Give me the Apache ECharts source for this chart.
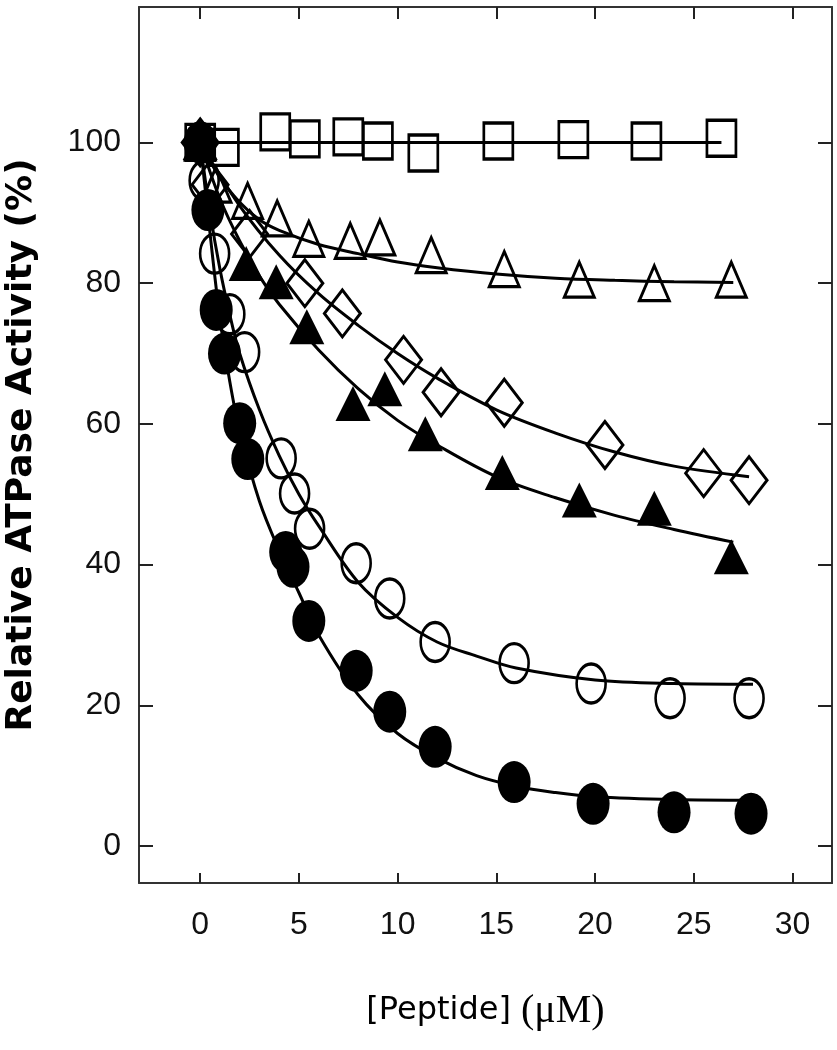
<!DOCTYPE html>
<html>
<head>
<meta charset="utf-8">
<script src="https://cdn.jsdelivr.net/npm/echarts@6/dist/echarts.min.js"></script>
<style>
html,body{margin:0;padding:0;background:#fff;}
#chart{width:837px;height:1050px;}
</style>
</head>
<body>
<div id="chart"></div>
<script>
// ---- data ----
const xTicks = [0, 5, 10, 15, 20, 25, 30];
const yTicks = [0, 20, 40, 60, 80, 100];

// open squares
const sqX = [0, 1.2, 3.8, 5.3, 7.5, 9.0, 11.3, 15.1, 18.9, 22.6, 26.4];
const sqY = [100, 99.3, 101.5, 100.5, 100.8, 100.2, 98.5, 100.2, 100.4, 100.2, 100.6];
const sqFitX = [0, 26.4];
const sqFitY = [100, 100];

// open triangles
const otX = [0, 0.8, 2.4, 3.9, 5.5, 7.6, 9.1, 11.7, 15.4, 19.2, 23.0, 26.9];
const otY = [100, 94, 91.7, 89.2, 86.3, 86, 86.5, 84, 82, 80.5, 80, 80.5];
const otFitX = [0, 1, 2, 3, 4, 6, 8, 10, 12, 15, 18, 21, 24, 27];
const otFitY = [100, 95, 91.5, 89, 87.5, 85.5, 84.2, 83, 82.2, 81.3, 80.7, 80.4, 80.2, 80.1];

// open diamonds
const dmX = [0, 0.5, 2.5, 5.3, 7.2, 10.3, 12.2, 15.4, 20.5, 25.5, 27.8];
const dmY = [100, 94, 87, 80, 75.7, 69.1, 64.5, 63, 57, 53, 52];
const dmFitX = [0, 2, 4, 6, 8, 10, 12, 15, 18, 21, 24, 27.8];
const dmFitY = [100, 91, 84, 78.5, 74, 70, 66.5, 62, 58.7, 56, 54, 52.5];

// filled triangles
const ftX = [0, 2.33, 3.85, 5.4, 7.74, 9.35, 11.4, 15.3, 19.2, 23.0, 26.9];
const ftY = [100, 82.8, 80.2, 73.8, 62.9, 65.0, 58.6, 53.1, 49.2, 48.0, 41.1];
const ftFitX = [0, 1, 2, 3, 4, 6, 8, 10, 12, 15, 18, 21, 24, 27];
const ftFitY = [100, 92, 86, 81, 77, 70.5, 65, 60.5, 57, 52.5, 49.5, 47, 45, 43.2];

// open circles
const ocX = [0, 0.2, 0.73, 1.5, 2.25, 4.1, 4.78, 5.54, 7.9, 9.6, 11.9, 15.9, 19.8, 23.8, 27.8];
const ocY = [100, 94.6, 84.2, 75.6, 70.2, 55.1, 50.1, 45.1, 40.2, 35.2, 29.0, 26.0, 23.1, 21.0, 21.0];
const ocFitX = [0, 0.5, 1, 1.5, 2, 3, 4, 5, 6, 8, 10, 12, 14, 16, 20, 24, 28];
const ocFitY = [100, 90, 82, 75.5, 70, 62, 55.5, 50, 45.5, 37.5, 32.5, 29, 27, 25.3, 23.6, 23.1, 23];

// filled circles
const fcX = [0, 0.39, 0.81, 1.23, 2.0, 2.41, 4.33, 4.7, 5.5, 7.9, 9.6, 11.9, 15.9, 19.9, 24.0, 27.9];
const fcY = [100, 90.4, 76.2, 70.0, 60.1, 55.0, 41.8, 39.7, 32.0, 24.9, 19.1, 14.1, 9.1, 6.0, 4.8, 4.6];
const fcFitX = [0, 0.5, 1, 1.5, 2, 3, 4, 5, 6, 8, 10, 12, 14, 16, 18, 20, 24, 28];
const fcFitY = [100, 87, 75, 66, 59, 49, 42, 36, 30, 21.5, 16, 12.5, 10, 8.5, 7.6, 7, 6.6, 6.5];

// ---- build ----
const zip = (xs, ys) => xs.map((x, i) => [x, ys[i]]);
const hollow = {color: 'rgba(0,0,0,0)', borderColor: '#000', borderWidth: 3, opacity: 1};
const solid = {color: '#000', borderWidth: 0, opacity: 1};

function fit(xs, ys) {
  return {type: 'line', data: zip(xs, ys), smooth: 0.35, showSymbol: false, symbol: 'none',
    lineStyle: {color: '#000', width: 3, opacity: 1}, z: 2, silent: true};
}
function pts(xs, ys, symbol, size, style) {
  return {type: 'scatter', data: zip(xs, ys), symbol: symbol, symbolSize: size,
    itemStyle: style, z: 3, silent: true};
}

const tickLine = {color: '#222', width: 2};
const axisLine = {show: true, onZero: false, lineStyle: {color: '#333', width: 2}};

const option = {
  animation: false,
  backgroundColor: '#fff',
  grid: {left: 139, right: 5, top: 7, bottom: 167, containLabel: false, outerBoundsMode: 'none'},
  xAxis: [{
    type: 'value', min: -3.1, max: 32, position: 'bottom',
    axisLine: axisLine,
    axisTick: {show: true, inside: true, length: 10, customValues: xTicks, lineStyle: tickLine},
    axisLabel: {customValues: xTicks, margin: 26, fontFamily: 'Liberation Sans', fontSize: 32, color: '#111'},
    splitLine: {show: false},
    name: '[Peptide] {u|(\u03bcM)}',
    nameLocation: 'middle', nameGap: 108,
    nameTextStyle: {fontFamily: 'DejaVu Sans', fontSize: 32, color: '#000',
      rich: {u: {fontFamily: 'Liberation Serif', fontSize: 40, color: '#000'}}}
  }, {
    type: 'value', min: -3.1, max: 32, position: 'top',
    axisLine: axisLine,
    axisTick: {show: true, inside: true, length: 12, customValues: xTicks, lineStyle: tickLine},
    axisLabel: {show: false}, splitLine: {show: false}
  }],
  yAxis: [{
    type: 'value', min: -5.25, max: 119.25, position: 'left',
    axisLine: axisLine,
    axisTick: {show: true, inside: true, length: 14, customValues: yTicks, lineStyle: tickLine},
    axisLabel: {customValues: yTicks, margin: 18, fontFamily: 'Liberation Sans', fontSize: 32, color: '#111'},
    splitLine: {show: false},
    name: 'Relative ATPase Activity (%)',
    nameLocation: 'middle', nameGap: 99, nameRotate: 90,
    nameTextStyle: {fontFamily: 'DejaVu Sans', fontWeight: 'bold', fontSize: 36, color: '#000'}
  }, {
    type: 'value', min: -5.25, max: 119.25, position: 'right',
    axisLine: axisLine,
    axisTick: {show: true, inside: true, length: 14, customValues: yTicks, lineStyle: tickLine},
    axisLabel: {show: false}, splitLine: {show: false}
  }],
  series: [
    fit(sqFitX, sqFitY),
    fit(otFitX, otFitY),
    fit(dmFitX, dmFitY),
    fit(ftFitX, ftFitY),
    fit(ocFitX, ocFitY),
    fit(fcFitX, fcFitY),
    pts(sqX, sqY, 'rect', [29, 36], hollow),
    pts(otX, otY, 'triangle', [30, 35], hollow),
    pts(dmX, dmY, 'diamond', [36, 47], hollow),
    pts(ocX, ocY, 'circle', [29, 39], hollow),
    pts(ftX, ftY, 'triangle', [35, 35], solid),
    pts(fcX, fcY, 'circle', [33, 42], solid)
  ]
};

const chart = echarts.init(document.getElementById('chart'), null, {renderer: 'canvas'});
chart.setOption(option);
</script>
</body>
</html>
